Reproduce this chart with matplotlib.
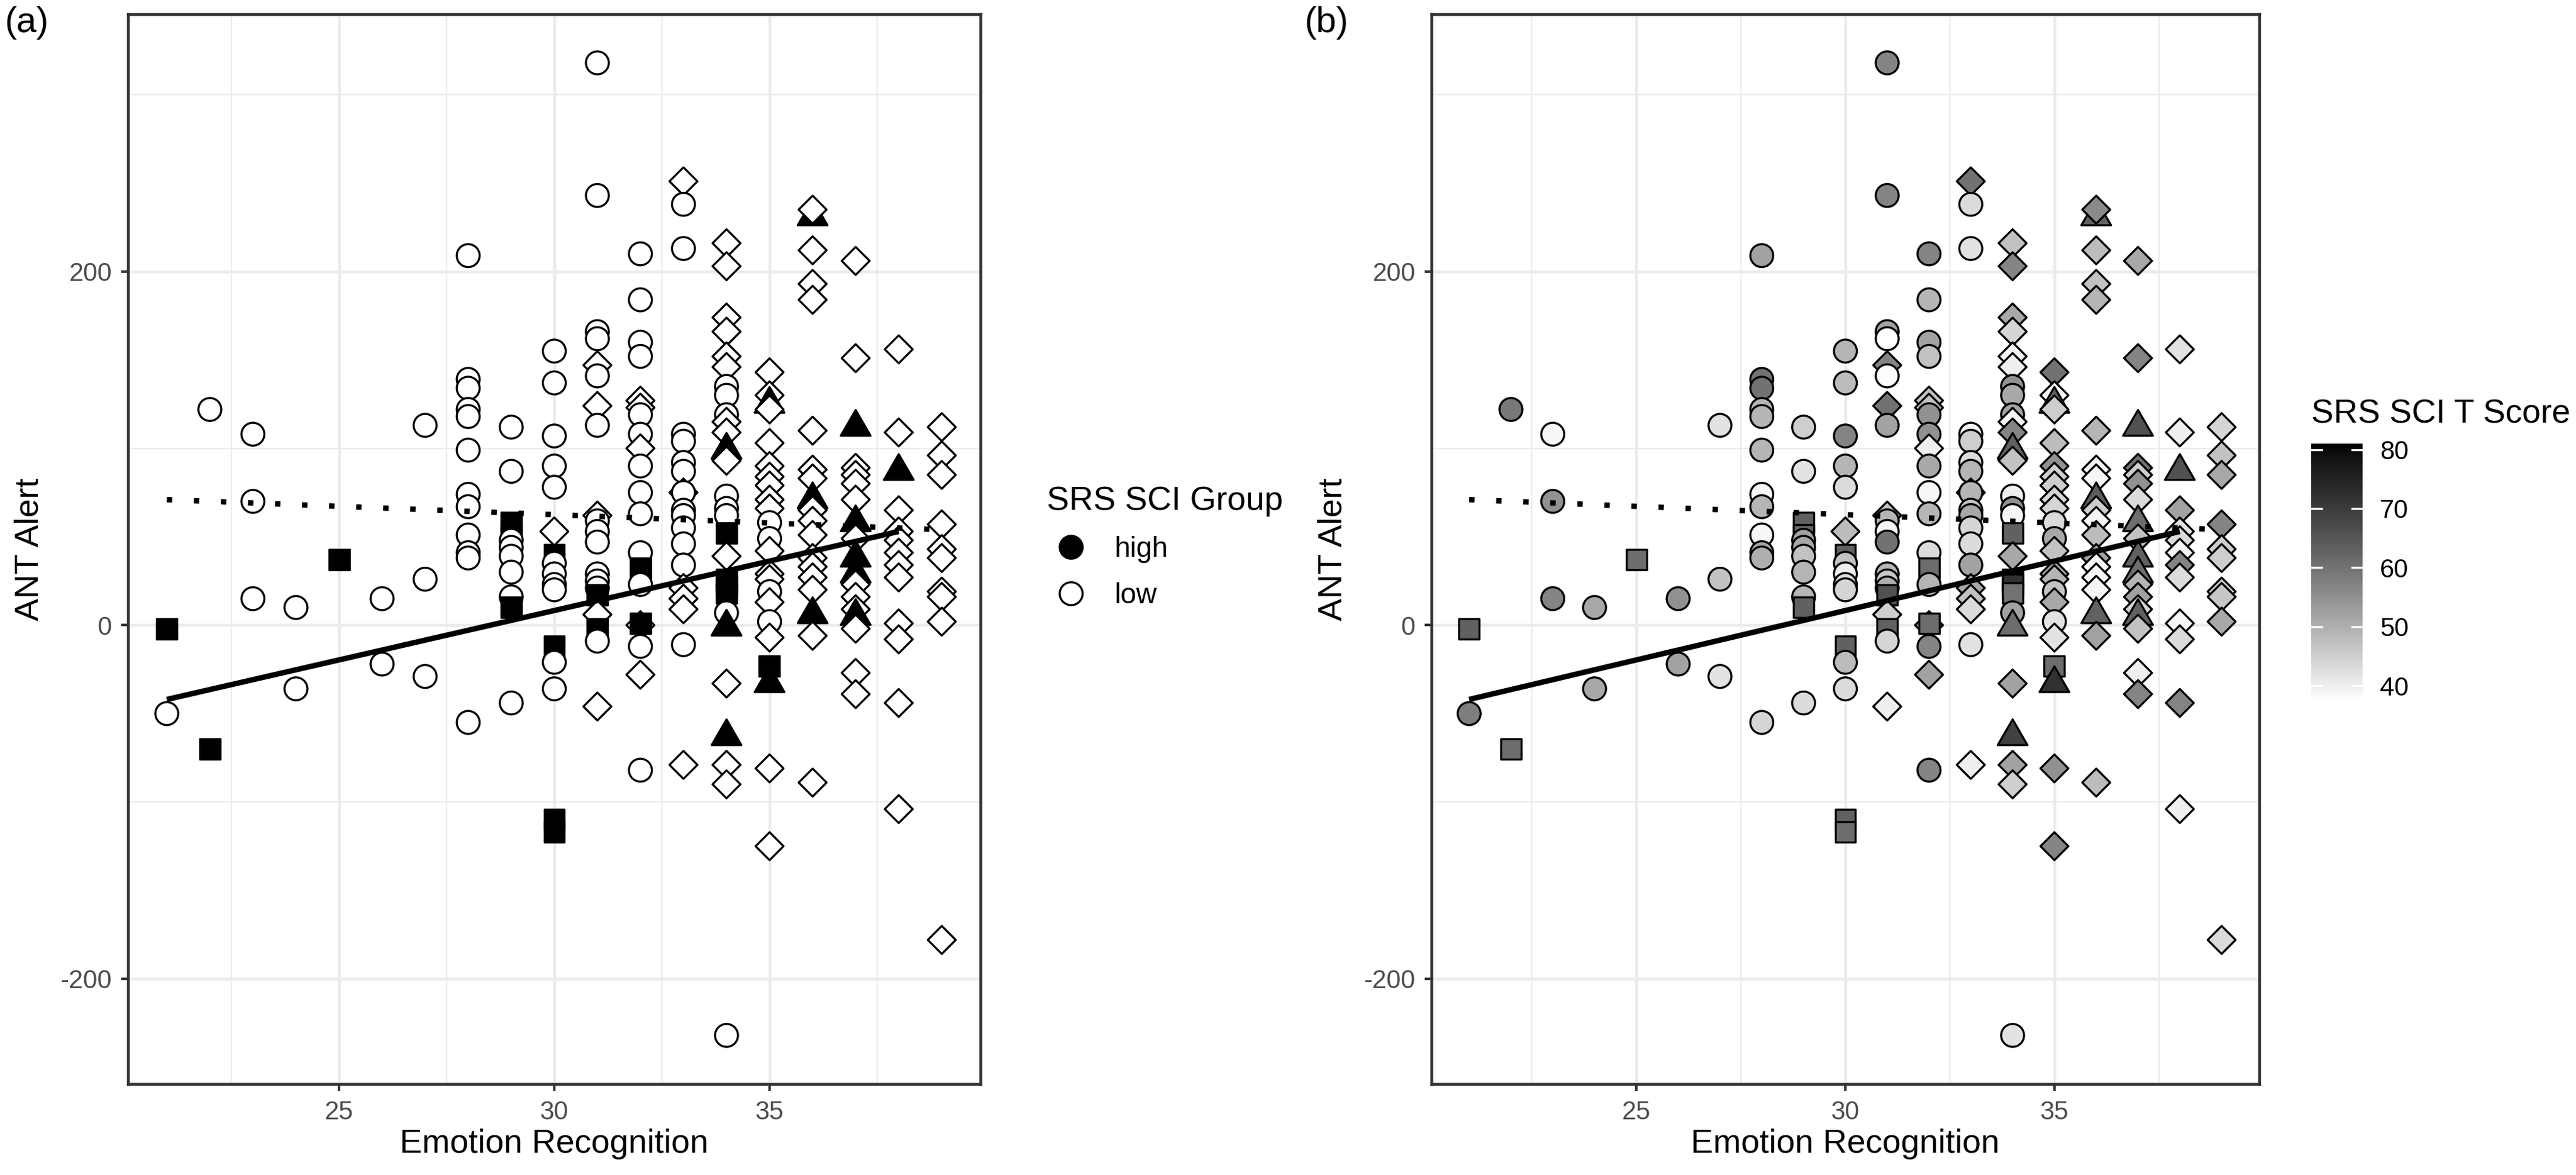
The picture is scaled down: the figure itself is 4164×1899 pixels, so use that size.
import numpy as np
import matplotlib
matplotlib.use("Agg")
import matplotlib.pyplot as plt
from matplotlib.path import Path
from matplotlib.transforms import Affine2D
from matplotlib.colors import ListedColormap, Normalize
from matplotlib.cm import ScalarMappable
from matplotlib.lines import Line2D

plt.rcParams['font.family'] = ['Liberation Sans', 'DejaVu Sans']
plt.rcParams['axes.unicode_minus'] = False

# one entry per participant, column by column (Emotion Recognition 21..39)
emotion = [
    21, 21,
    22, 22,
    23, 23, 23,
    24, 24,
    25,
    26, 26,
    27, 27, 27,
    28, 28, 28, 28, 28, 28, 28, 28, 28, 28, 28, 28,
    29, 29, 29, 29, 29, 29, 29, 29, 29, 29, 29,
    30, 30, 30, 30, 30, 30, 30, 30, 30, 30, 30, 30, 30, 30, 30, 30,
    31, 31, 31, 31, 31, 31, 31, 31, 31, 31, 31, 31, 31, 31, 31, 31, 31, 31, 31, 31,
    32, 32, 32, 32, 32, 32, 32, 32, 32, 32, 32, 32, 32, 32, 32, 32, 32, 32, 32, 32,
    33, 33, 33, 33, 33, 33, 33, 33, 33, 33, 33, 33, 33, 33, 33, 33, 33, 33, 33,
    34, 34, 34, 34, 34, 34, 34, 34, 34, 34, 34, 34, 34, 34, 34, 34, 34, 34, 34, 34,
    34, 34, 34, 34, 34, 34, 34, 34,
    35, 35, 35, 35, 35, 35, 35, 35, 35, 35, 35, 35, 35, 35, 35, 35, 35, 35, 35, 35,
    35, 35, 35,
    36, 36, 36, 36, 36, 36, 36, 36, 36, 36, 36, 36, 36, 36, 36, 36, 36, 36, 36,
    37, 37, 37, 37, 37, 37, 37, 37, 37, 37, 37, 37, 37, 37, 37, 37, 37, 37,
    38, 38, 38, 38, 38, 38, 38, 38, 38, 38, 38, 38, 38,
    39, 39, 39, 39, 39, 39, 39, 39, 39, 39,
]

alert = [
    -2, -50,
    122, -70,
    108, 70, 15,
    10, -36,
    37,
    15, -22,
    113, 26, -29,
    209, 139, 134, 122, 118, 99, 74, 67, 51, 41, 38, -55,
    112, 87, 58, 51, 48, 44, 39, 30, 16, 10, -44,
    155, 137, 107, 90, 78, 53, 40, 35, 29, 23, 20, -12, -21, -36, -110, -117,
    318, 243, 166, 162, 147, 141, 124, 113, 62, 59, 53, 47, 29, 25, 21, 17, 6, -2, -9, -46,
    210, 184, 160, 152, 127, 123, 119, 108, 100, 90, 75, 63, 41, 32, 23, 0, 1, -12, -28, -82,
    251, 238, 213, 108, 104, 92, 87, 75, 75, 65, 62, 55, 46, 34, 21, 15, 9, -11, -79,
    216, 203, 174, 166, 152, 146, 135, 130, 119, 115, 109, 99, 93, 73, 66, 62, 52, 39, 26, 23,
    18, 7, -1, -33, -63, -79, -90, -232,
    143, 130, 125, 122, 103, 90, 84, 79, 71, 66, 58, 49, 42, 29, 26, 19, 13, 2, -7, -23,
    -33, -81, -125,
    231, 235, 212, 193, 184, 110, 88, 83, 71, 65, 59, 51, 38, 33, 27, 20, 6, -6, -89,
    206, 151, 112, 89, 85, 80, 71, 58, 49, 38, 29, 23, 16, 9, 5, -2, -27, -39,
    156, 109, 87, 65, 53, 48, 41, 34, 27, 1, -8, -44, -104,
    112, 96, 85, 57, 43, 38, 19, 16, 2, -178,
]

# C circle, D diamond, S square, T triangle
shape = list(
    "SC" "CS" "CCC" "CC" "S" "CC" "CCC"
    "CCCCCCCCCCCC"
    "CCSSCCCCCSC"
    "CCCCCDSCCCCSCCSS"
    "CCCCDCDCDCCCCCCSDSCD"
    "CCCCDDCCDCCCCSCDSCDC"
    "DCCCCCCDCCCCCCDDDCD"
    "DDDDDDCCCDDTDCCCSDSSSCTDTDDC"
    "DDTDDDDDDDCCDDDCDCDSTDD"
    "TDDDDDDDTDDDDDDDTDD"
    "DDTDDDDTDTTDDDTDDD"
    "DDTDDDDDDDDDD"
    "DDDDDDDDDD"
)

t_score = [
    63, 58,
    59, 61,
    39, 55, 57,
    51, 51,
    61,
    55, 52,
    42, 47, 42,
    52, 60, 60, 49, 49, 49, 39, 49, 39, 51, 50, 44,
    45, 42, 63, 62, 52, 51, 47, 49, 49, 63, 43,
    49, 48, 57, 49, 43, 48, 63, 47, 40, 43, 44, 63, 48, 43, 63, 61,
    57, 57, 52, 37.5, 57, 38, 60, 52, 47, 49, 39, 60, 49, 46, 50, 66, 45, 63, 44, 40,
    57, 49, 52, 47, 47, 47, 55, 55, 40, 51, 39, 49, 43, 61, 49, 55, 61, 57, 52, 57,
    60, 43, 42, 39, 45, 43, 49, 52, 49, 47, 51, 44, 43, 52, 51, 47, 43, 42, 40,
    47, 57, 51, 44, 39, 40, 55, 51, 52, 39, 57, 63, 47, 40, 55, 39, 63, 51, 81, 72,
    60, 52, 61, 52, 69, 52, 45, 42,
    60, 39, 63, 45, 48, 55, 45, 45, 44, 44, 43, 51, 47, 51, 49, 47, 51, 42, 42, 61,
    72, 55, 57,
    63, 56, 48, 47, 49, 49, 39, 39, 64, 45, 39, 48, 52, 39, 39, 39, 63, 52, 48,
    51, 57, 66, 60, 45, 55, 43, 61, 47, 63, 61, 49, 52, 44, 63, 47, 40, 57,
    42, 40, 66, 52, 42, 43, 39, 57, 43, 39, 43, 57, 40,
    44, 47, 51, 57, 45, 45, 45, 46, 51, 43,
]

high_shapes = ('S', 'T')

# fitted lines (solid = high group, dotted = low group)
fit_high_x = [21, 38]
fit_high_y = [-42, 53]
fit_low_x = [21, 39]
fit_low_y = [71, 54]

x_major = [25, 30, 35]
x_minor = [22.5, 27.5, 32.5, 37.5]
y_major = [-200, 0, 200]
y_minor = [-100, 100, 300]
cbar_ticks = [40, 50, 60, 70, 80]

assert len(emotion) == len(alert) == len(shape) == len(t_score)

emotion = np.array(emotion)
alert = np.array(alert)
t_score = np.array(t_score, dtype=float)
is_high = np.isin(shape, high_shapes)

# marker outlines, unit size = marker size in points
h = 0.445
r = 0.61
marker_paths = {
    'C': Path.unit_circle().transformed(Affine2D().scale(0.5)),
    'S': Path([(-h, -h), (h, -h), (h, h), (-h, h), (-h, -h)], closed=True),
    'D': Path([(0, -r), (r, 0), (0, r), (-r, 0), (0, -r)], closed=True),
    'T': Path([(-0.65, -0.375), (0.65, -0.375), (0, 0.75), (-0.65, -0.375)], closed=True),
}
point_paths = [marker_paths[m] for m in shape]

# white -> black gradient interpolated in Lab lightness (like ggplot)
L = np.linspace(100, 0, 256)
Y = np.where(L > 8, ((L + 16) / 116) ** 3, L / 903.3)
g = np.where(Y <= 0.0031308, 12.92 * Y, 1.055 * Y ** (1 / 2.4) - 0.055)
gray_cmap = ListedColormap(np.column_stack([g, g, g]))
norm = Normalize(vmin=t_score.min(), vmax=t_score.max())

fig = plt.figure(figsize=(4164 / 300, 1899 / 300), dpi=300)
ax_a = fig.add_axes([207 / 4164, 1 - 1752 / 1899, 1378 / 4164, 1729 / 1899])
ax_b = fig.add_axes([2314 / 4164, 1 - 1752 / 1899, 1338 / 4164, 1729 / 1899])


def style_axes(ax):
    ax.set_axisbelow(True)
    ax.set_xticks(x_major)
    ax.set_xticks(x_minor, minor=True)
    ax.set_yticks(y_major)
    ax.set_yticks(y_minor, minor=True)
    ax.grid(which='major', color='#ebebeb', linewidth=1.1)
    ax.grid(which='minor', color='#ebebeb', linewidth=0.55)
    ax.tick_params(which='major', length=2.75, width=1.0, color='#333333',
                   labelcolor='#4d4d4d', labelsize=10, pad=3.5)
    ax.tick_params(which='minor', length=0)
    for sp in ax.spines.values():
        sp.set_color('#333333')
        sp.set_linewidth(1.1)
    ax.set_xlabel('Emotion Recognition', fontsize=13, labelpad=1.5)
    ax.set_ylabel('ANT Alert', fontsize=13, labelpad=6)


def draw_lines(ax):
    ax.plot(fit_high_x, fit_high_y, color='black', linewidth=2.1,
            solid_capstyle='butt', zorder=3)
    ax.plot(fit_low_x, fit_low_y, color='black', linewidth=2.1,
            linestyle=(0, (1, 4)), zorder=3)


# (a) SRS SCI group
fill_a = np.where(is_high, 'black', 'white')
sc_a = ax_a.scatter(emotion, alert, s=79, facecolors=fill_a,
                    edgecolors='black', linewidths=0.8, zorder=2)
sc_a.set_paths(point_paths)
draw_lines(ax_a)
style_axes(ax_a)

# (b) SRS SCI T score
sc_b = ax_b.scatter(emotion, alert, s=79, c=t_score, cmap=gray_cmap, norm=norm,
                    edgecolors='black', linewidths=0.8, zorder=2)
sc_b.set_paths(point_paths)
draw_lines(ax_b)
style_axes(ax_b)

# legend for (a)
handles = [
    Line2D([], [], marker='o', linestyle='none', markersize=8.9,
           markerfacecolor='black', markeredgecolor='black', markeredgewidth=0.8),
    Line2D([], [], marker='o', linestyle='none', markersize=8.9,
           markerfacecolor='white', markeredgecolor='black', markeredgewidth=0.8),
]
fig.legend(handles, ['high', 'low'], title='SRS SCI Group',
           loc='upper left', bbox_to_anchor=(1669 / 4164, 1 - 762 / 1899),
           frameon=False, borderpad=0, handlelength=1.7, handletextpad=0.7,
           labelspacing=0.68, fontsize=11, title_fontsize=13, alignment='left')

# colour bar for (b)
cax = fig.add_axes([3736 / 4164, 1 - 1132 / 1899, 83 / 4164, 415 / 1899])
cb = fig.colorbar(ScalarMappable(norm=norm, cmap=gray_cmap), cax=cax, ticks=cbar_ticks)
cb.outline.set_visible(False)
cax.tick_params(length=0, labelsize=10, pad=6.7, labelcolor='black')
for t in cbar_ticks:
    cax.plot([0, 0.2], [t, t], color='white', linewidth=0.8)
    cax.plot([0.8, 1], [t, t], color='white', linewidth=0.8)
cax.set_title('SRS SCI T Score', loc='left', fontsize=13, pad=8)

fig.text(7 / 4164, 1 - 10 / 1899, '(a)', fontsize=14, ha='left', va='top')
fig.text(2108 / 4164, 1 - 10 / 1899, '(b)', fontsize=14, ha='left', va='top')

fig.savefig('out.png', dpi=300)
